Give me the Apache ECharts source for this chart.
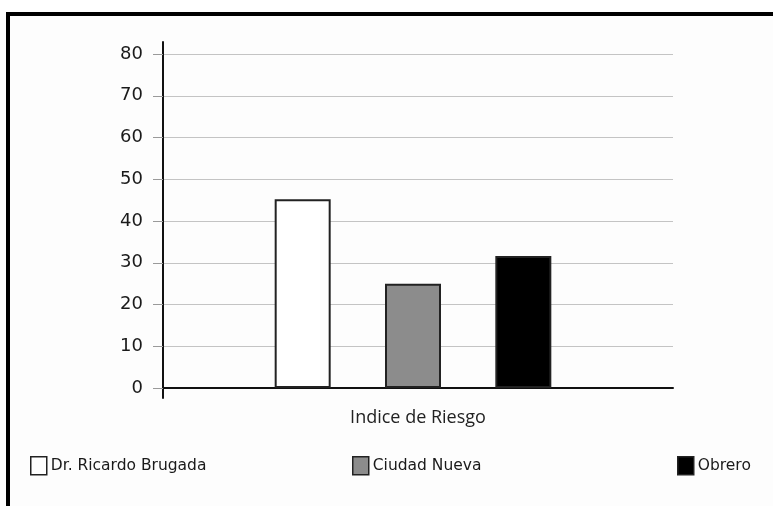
<!DOCTYPE html>
<html>
<head>
<meta charset="utf-8">
<script src="https://cdn.jsdelivr.net/npm/echarts@6/dist/echarts.min.js"></script>
<style>
  html, body { margin: 0; padding: 0; background: #ffffff; overflow: hidden; }
  #frame { position: absolute; left: 6px; top: 12px; width: 900px; height: 600px;
           border-top: 4px solid #000; border-left: 4px solid #000; background: #fdfdfd; }
  #chart { position: absolute; left: 0; top: 0; width: 773px; height: 506px; }
</style>
</head>
<body>
<div id="frame"></div>
<div id="chart"></div>
<script>
const categories = ['Indice de Riesgo'];
const seriesNames = ['Dr. Ricardo Brugada', 'Ciudad Nueva', 'Obrero'];
const valuesBrugada = [45.2];
const valuesCiudadNueva = [25];
const valuesObrero = [31.6];
const yTicks = [0, 10, 20, 30, 40, 50, 60, 70, 80];

const colors = ['#ffffff', '#8c8c8c', '#000000'];
const seriesValues = [valuesBrugada, valuesCiudadNueva, valuesObrero];
const legendLefts = [30, 352, 677];

const chart = echarts.init(document.getElementById('chart'), null, { renderer: 'canvas' });

const yMin = yTicks[0], yMax = yTicks[yTicks.length - 1];

const option = {
  backgroundColor: 'transparent',
  animation: false,
  grid: [
    { left: 163, right: 100, top: 54, bottom: 118 },   // axes, gridlines
    { left: 163, right: 110, top: 54, bottom: 118 },   // bars
    { left: 163, right: 100, top: 42, bottom: 108 }    // extended y axis line
  ],
  xAxis: [
    {
      type: 'category', gridIndex: 0, data: categories,
      axisLine: { show: true, lineStyle: { color: '#111', width: 2 } },
      axisTick: { show: false },
      axisLabel: { fontFamily: 'Open Sans', fontSize: 18, color: '#222', margin: 21 }
    },
    { type: 'category', gridIndex: 1, data: categories, show: false },
    { type: 'category', gridIndex: 2, data: categories, show: false }
  ],
  yAxis: [
    {
      type: 'value', gridIndex: 0, min: yMin, max: yMax, interval: 10,
      axisLine: { show: false },
      axisTick: { show: true, length: 10, lineStyle: { color: '#9a9a9a', width: 1 } },
      axisLabel: { fontFamily: 'DejaVu Sans', fontSize: 18, color: '#1a1a1a', margin: 20 },
      splitLine: { show: true, lineStyle: { color: '#c4c4c4', width: 1 } }
    },
    { type: 'value', gridIndex: 1, min: yMin, max: yMax, show: false },
    {
      type: 'value', gridIndex: 2, min: 0, max: 1,
      axisLine: { show: true, lineStyle: { color: '#111', width: 2 } },
      axisTick: { show: false }, axisLabel: { show: false }, splitLine: { show: false }
    }
  ],
  legend: seriesNames.map((name, i) => ({
    data: [name],
    left: legendLefts[i],
    top: 456,
    padding: 0,
    icon: 'rect',
    itemWidth: 16,
    itemHeight: 18,
    itemGap: 4,
    itemStyle: { borderColor: '#222', borderWidth: 1.5 },
    textStyle: { fontFamily: 'DejaVu Sans', fontSize: 15.5, color: '#1a1a1a', padding: [0, 0, 0, -1] },
    selectedMode: false
  })),
  series: seriesNames.map((name, i) => ({
    name: name,
    type: 'bar',
    xAxisIndex: 1, yAxisIndex: 1,
    data: seriesValues[i],
    barWidth: 56,
    barGap: '97%',
    itemStyle: { color: colors[i], borderColor: '#222', borderWidth: 2 }
  }))
};
chart.setOption(option);
</script>
</body>
</html>
